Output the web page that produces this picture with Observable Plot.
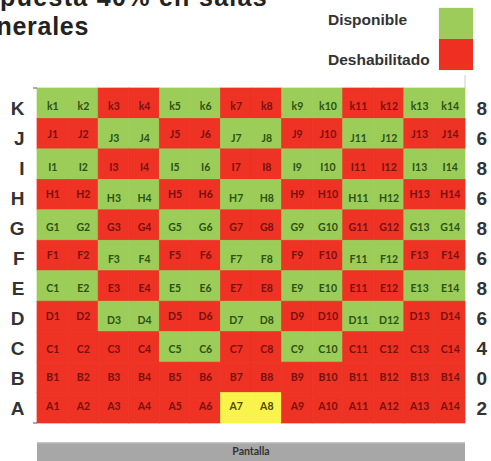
<!DOCTYPE html>
<html>
<head>
<meta charset="utf-8">
<script src="https://cdn.jsdelivr.net/npm/d3@7"></script>
<script src="https://cdn.jsdelivr.net/npm/@observablehq/plot@0.6"></script>
<style>
  html, body { margin: 0; padding: 0; background: #fff; }
  body { width: 491px; height: 461px; overflow: hidden; position: relative; font-family: "Liberation Sans", Arial, sans-serif; }
  .t { position: absolute; white-space: nowrap; font-weight: bold; color: #222; font-size: 25px; line-height: 25px; }
  .lg { position: absolute; white-space: nowrap; font-weight: bold; color: #333; font-size: 15.5px; line-height: 15px; }
  .sw { position: absolute; left: 439px; width: 34px; height: 31px; }
  #chart { position: absolute; left: 0; top: 0; }
</style>
</head>
<body>
<div id="chart"></div>
<div class="t" id="t1" style="right: 223px; top: -15px; letter-spacing: 1.3px;">Propuesta 40% en salas</div>
<div class="t" id="t2" style="right: 402px; top: 14px; letter-spacing: 0.7px;">generales</div>
<div class="lg" style="left: 328px; top: 12px;">Disponible</div>
<div class="lg" style="left: 328px; top: 52px;">Deshabilitado</div>
<div class="sw" style="top: 8px; background: #9dcc5a; box-shadow: 0 0 1px #bbb;"></div>
<div class="sw" style="top: 39px; background: #ee2f22; box-shadow: 0 0 1px #bbb;"></div>
<script>
// ---- data ----
const rows = ["K", "J", "I", "H", "G", "F", "E", "D", "C", "B", "A"];
const cols = [1, 2, 3, 4, 5, 6, 7, 8, 9, 10, 11, 12, 13, 14];
const rowPrefix = ["k", "J", "I", "H", "G", "F", "E", "D", "C", "B", "A"];
// D = disponible, X = deshabilitado, S = seleccionado (amarillo)
const rowStatus = [
  "DDXXDDXXDDXXDD",
  "XXDDXXDDXXDDXX",
  "DDXXDDXXDDXXDD",
  "XXDDXXDDXXDDXX",
  "DDXXDDXXDDXXDD",
  "XXDDXXDDXXDDXX",
  "DDXXDDXXDDXXDD",
  "XXDDXXDDXXDDXX",
  "XXXXDDXXDDXXXX",
  "XXXXXXXXXXXXXX",
  "XXXXXXSSXXXXXX"
];
const availableCount = [8, 6, 8, 6, 8, 6, 8, 6, 4, 0, 2];
const labelOverrides = { "E1": "C1" };
const screenLabel = "Pantalla";

// ---- build tables ----
const seats = [];
rows.forEach((r, i) => {
  cols.forEach((c, j) => {
    const key = r + c;
    seats.push({
      row: r, col: c, ri: i,
      status: rowStatus[i][j],
      startsRed: rowStatus[i][0] === "X" && i < 8,
      label: labelOverrides[key] || (rowPrefix[i] + c)
    });
  });
});
const counts = rows.map((r, i) => ({ row: r, ri: i, count: availableCount[i] }));

const fillFor = { D: "#9ccd59", X: "#ee3224", S: "#f8f44c" };
const textFor = { D: "#2b5212", X: "#7a0f0f", S: "#4d4a06" };

// small vertical nudges of the seat labels, as in the reference
function labelGroup(d) {
  if (d.row === "A") return -1.5;
  if (d.row === "B") return 0;
  if (d.startsRed) return d.status === "D" ? 4 : 0;
  return 2.5;
}
const dyGroups = [-1.5, 0, 2.5, 4];

const seatLabelMarks = dyGroups.map(g => Plot.text(seats.filter(d => labelGroup(d) === g), {
  x: "col", y: "row", text: "label",
  fill: d => textFor[d.status],
  fontSize: 10.5, fontWeight: "bold", fontFamily: "Lato, Liberation Sans, sans-serif",
  dy: g
}));

const rowLabelMarks = rows.map((r, i) => Plot.text([r], {
  y: d => d, text: d => d, frameAnchor: "left", textAnchor: "end",
  dx: -13, dy: 5.5 - 0.45 * i,
  fontSize: 19, fontWeight: "bold", fill: "#333"
}));

const countMarks = counts.map(c => Plot.text([c], {
  y: "row", text: d => String(d.count), frameAnchor: "right", textAnchor: "start",
  dx: 11, dy: 5.5 - 0.45 * c.ri,
  fontSize: 19, fontWeight: "bold", fill: "#333"
}));

const chart = Plot.plot({
  width: 491,
  height: 461,
  marginLeft: 37,
  marginRight: 26,
  marginTop: 88,
  marginBottom: 38,
  style: { fontFamily: "Liberation Sans, Arial, sans-serif", background: "transparent" },
  x: { type: "band", domain: cols, padding: 0, round: false, axis: null },
  y: { type: "band", domain: rows, padding: 0, round: false, axis: null },
  marks: [
    Plot.cell(seats, {
      x: "col", y: "row", inset: 0,
      fill: d => fillFor[d.status], stroke: d => fillFor[d.status], strokeWidth: 0.7
    }),
    ...seatLabelMarks,
    ...rowLabelMarks,
    ...countMarks,
    (index, scales, values, dims) => {
      const g = d3.create("svg:g");
      const x0 = scales.x(cols[0]);
      const x1 = scales.x(cols[cols.length - 1]) + scales.x.bandwidth();
      const gridBottom = dims.height - dims.marginBottom;
      const gridTop = dims.marginTop;
      // little tick stubs at the grid's left corners
      [gridTop, gridBottom].forEach(y => {
        g.append("line").attr("x1", x0 - 4).attr("x2", x0).attr("y1", y).attr("y2", y)
          .attr("stroke", "#555").attr("stroke-width", 1);
      });
      g.append("line").attr("x1", x1).attr("x2", x1).attr("y1", gridTop - 13).attr("y2", gridTop)
        .attr("stroke", "#ccc").attr("stroke-width", 1);
      const top = gridBottom + 19;
      g.append("rect").attr("x", x0).attr("y", top).attr("width", x1 - x0).attr("height", 30).attr("fill", "#a7a7a7");
      g.append("rect").attr("x", x0).attr("y", top).attr("width", x1 - x0).attr("height", 1.5).attr("fill", "#c4c4c4");
      g.append("text").attr("x", (x0 + x1) / 2).attr("y", top + 13)
        .attr("text-anchor", "middle").attr("font-size", 10.5).attr("font-weight", "bold")
        .attr("font-family", "Lato, Liberation Sans, sans-serif").attr("fill", "#333").text(screenLabel);
      return g.node();
    }
  ]
});
document.getElementById("chart").appendChild(chart);
</script>
</body>
</html>
